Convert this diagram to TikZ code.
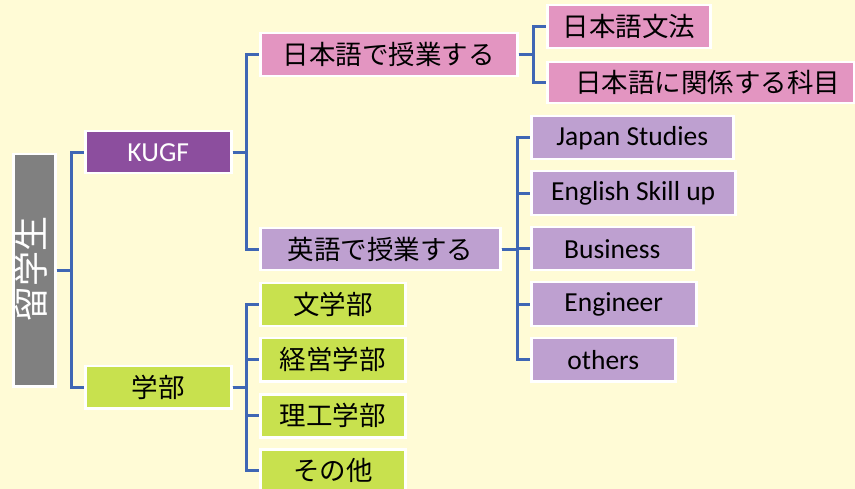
\documentclass[tikz,border=0pt]{standalone}
\usepackage{fontspec}
\setmainfont{Carlito}
\newfontfamily\jp{Noto Sans CJK JP}
\definecolor{bgcol}{HTML}{FFFBD6}
\definecolor{conncol}{HTML}{3F66B4}
\definecolor{pinkc}{HTML}{E395C1}
\definecolor{lavc}{HTML}{BEA0D0}
\definecolor{kugfc}{HTML}{8C4E9E}
\definecolor{greenc}{HTML}{C8E14E}
\definecolor{greyc}{HTML}{808080}
\definecolor{txtc}{HTML}{000000}
\tikzset{
  box/.style={draw=white, line width=2.5pt, rectangle, inner sep=0pt, anchor=north west, text=txtc, font=\fontsize{27.5}{30}\selectfont},
  jpbox/.style={box, font=\jp\fontsize{26.5}{30}\selectfont},
  conn/.style={draw=conncol, line width=3pt},
}
\begin{document}
\begin{tikzpicture}[x=1pt,y=-1pt]
\fill[bgcol] (0,0) rectangle (855,489);
\useasboundingbox (0,0) rectangle (855,489);
% root
\node[box, fill=greyc, minimum width=42pt, minimum height=232pt] (root) at (12,153) {};
\node[text=white, rotate=90, font=\jp\fontsize{35}{40}\selectfont, inner sep=0pt] (roottext) at (31,269) {留学生};
% level 1
\node[box, fill=kugfc, text=white, minimum width=146pt, minimum height=42pt] (kugf) at (84,130) {KUGF};
\node[jpbox, fill=greenc, minimum width=146pt, minimum height=42pt] (gakubu) at (84,365) {学部};
% level 2
\node[jpbox, fill=pinkc, minimum width=257pt, minimum height=43pt] (jpc) at (259,32) {日本語で授業する};
\node[jpbox, fill=lavc, minimum width=240pt, minimum height=42pt] (enc) at (259,227) {英語で授業する};
\node[jpbox, fill=greenc, minimum width=145pt, minimum height=43pt] (bun) at (259,282) {文学部};
\node[jpbox, fill=greenc, minimum width=145pt, minimum height=43pt] (kei) at (259,337) {経営学部};
\node[jpbox, fill=greenc, minimum width=145pt, minimum height=43pt] (rik) at (259,393) {理工学部};
\node[jpbox, fill=greenc, minimum width=145pt, minimum height=43pt] (sono) at (259,448) {その他};
% level 3
\node[jpbox, fill=pinkc, minimum width=163pt, minimum height=43pt] (bunpo) at (546,4) {日本語文法};
\node[jpbox, fill=pinkc, minimum width=307pt, minimum height=41pt] (kankei) at (546,61) {\hspace{14pt}日本語に関係する科目};
\node[box, fill=lavc, minimum width=202pt, minimum height=43pt] (js) at (530,115) {Japan Studies};
\node[box, fill=lavc, minimum width=204pt, minimum height=44pt] (esu) at (530,170) {English Skill up};
\node[box, fill=lavc, minimum width=162pt, minimum height=43pt] (bus) at (530,226) {Business};
\node[box, fill=lavc, minimum width=165pt, minimum height=44pt] (eng) at (530,281) {Engineer};
\node[box, fill=lavc, minimum width=144pt, minimum height=43pt] (oth) at (530,337) {others};
% connectors
\draw[conn] (root.east) -- ++(15,0) |- (kugf.west);
\draw[conn] (root.east) -- ++(15,0) |- (gakubu.west);
\foreach \t in {jpc,enc} \draw[conn] (kugf.east) -- ++(14,0) |- (\t.west);
\foreach \t in {bun,kei,rik,sono} \draw[conn] (gakubu.east) -- ++(14,0) |- (\t.west);
\foreach \t in {bunpo,kankei} \draw[conn] (jpc.east) -- ++(15,0) |- (\t.west);
\foreach \t in {js,esu,bus,eng,oth} \draw[conn] (enc.east) -- ++(16,0) |- (\t.west);
\end{tikzpicture}
\end{document}
